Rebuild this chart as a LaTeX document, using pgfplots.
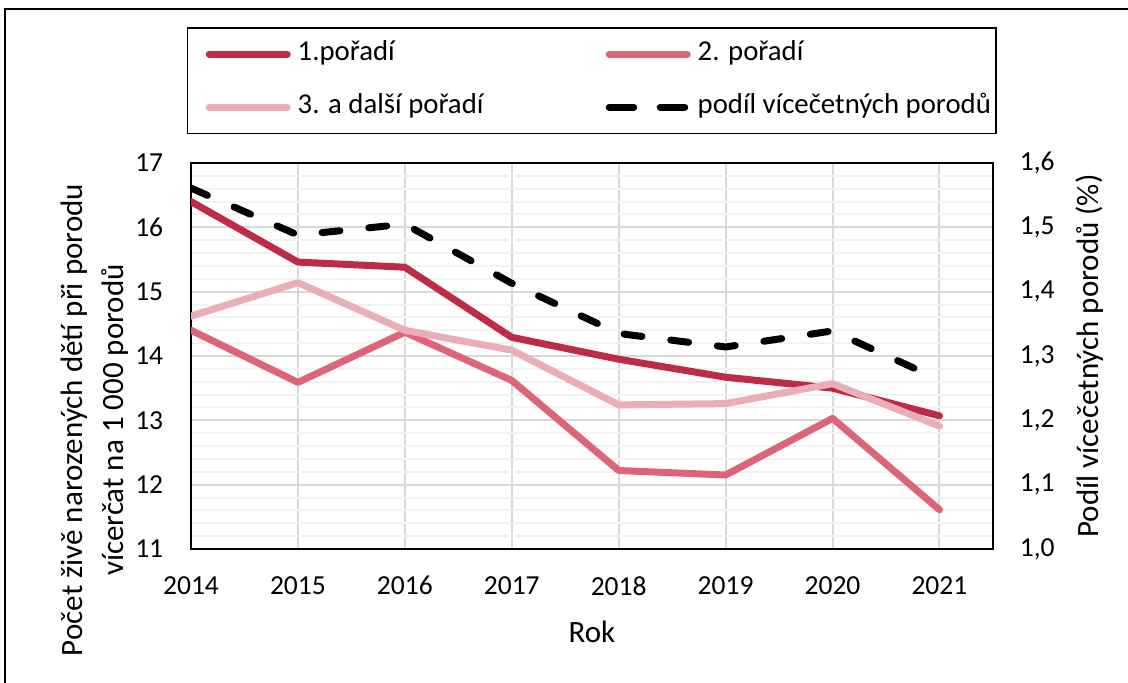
\documentclass[border=0pt]{standalone}
\usepackage{fontspec}
\setmainfont{Carlito}
\usepackage{pgfplots}
\pgfplotsset{compat=1.18}

\definecolor{prvni}{RGB}{190,43,69}
\definecolor{druhe}{RGB}{220,102,120}
\definecolor{treti}{RGB}{235,174,182}
\definecolor{mrizka}{RGB}{217,217,217}
\definecolor{mrizkamin}{RGB}{242,242,242}

\newcommand\popisek{\fontsize{12.4}{14}\selectfont}

\pgfplotsset{
  spolecne/.style={
    at={(76.4pt,53.2pt)}, anchor=south west,
    scale only axis, width=320.8pt, height=154.4pt,
    xmin=2014, xmax=2021.5,
    major tick length=0pt, minor tick length=0pt,
    tick label style={font=\fontsize{11}{13}\selectfont},
    /pgf/number format/assume math mode=true,
    axis line style={line width=0.8pt},
  },
  rada/.style={line width=2.8pt, line cap=round, line join=round},
}

\begin{document}
\begin{tikzpicture}
\useasboundingbox (0,0) rectangle (451.2pt,272.8pt);
\draw[line width=0.8pt] (2pt,-10pt) -- (2pt,269.2pt) -- (460pt,269.2pt);

\begin{axis}[spolecne,
  ymin=11, ymax=17, ytick={11,...,17}, minor y tick num=4,
  xtick={2014,...,2021},
  xticklabel style={/pgf/number format/1000 sep={}, yshift=-7.4pt},
  yticklabel style={xshift=-7.6pt},
  xmajorgrids, ymajorgrids, yminorgrids,
  major grid style={draw=mrizka, line width=0.8pt},
  minor grid style={draw=mrizkamin, line width=0.8pt},
  xlabel={Rok},
  every axis x label/.style={at={(axis description cs:0.5,0)}, anchor=center, yshift=-33.2pt, font=\popisek},
  ylabel={Počet živě narozených dětí při porodu\\[2.6pt]vícerčat na 1 000 porodů},
  every axis y label/.style={at={(axis description cs:-0.1203,0.334)}, anchor=center, rotate=90, align=center, font=\popisek},
  legend columns=2,
  legend cell align=left,
  legend image code/.code={\draw[#1] (1.4pt,0pt) -- (32.6pt,0pt);},
  legend style={at={(axis description cs:-0.005,1.352)}, anchor=north west,
    draw=black, line width=0.6pt, font=\fontsize{11.5}{13}\selectfont,
    inner xsep=7.2pt, inner ysep=5.5pt, row sep=11.2pt,
    nodes={inner sep=0pt, text height=7.5pt, text depth=2.5pt},
    /tikz/every odd column/.append style={column sep=2.8pt}},
]
\addplot[rada, prvni] coordinates {
  (2014,16.40) (2015,15.46) (2016,15.38) (2017,14.29)
  (2018,13.95) (2019,13.67) (2020,13.50) (2021,13.07)
};
\addlegendentry{\makebox[123.2pt][l]{1.pořadí}}
\addplot[rada, druhe] coordinates {
  (2014,14.40) (2015,13.59) (2016,14.37) (2017,13.62)
  (2018,12.22) (2019,12.15) (2020,13.03) (2021,11.61)
};
\addlegendentry{\makebox[112pt][l]{2. pořadí}}
\addplot[rada, treti] coordinates {
  (2014,14.62) (2015,15.14) (2016,14.40) (2017,14.09)
  (2018,13.24) (2019,13.26) (2020,13.57) (2021,12.91)
};
\addlegendentry{\makebox[123.2pt][l]{3. a další pořadí}}
\addlegendimage{rada, black, dash pattern=on 9.8pt off 10.6pt}
\addlegendentry{\makebox[112pt][l]{podíl vícečetných porodů}}
\end{axis}

\begin{axis}[spolecne,
  ymin=1.0, ymax=1.6, ytick={1.0,1.1,1.2,1.3,1.4,1.5,1.6},
  axis y line*=right, axis x line=none,
  yticklabel style={xshift=7.2pt, /pgf/number format/.cd, fixed, fixed zerofill, precision=1, use comma},
  ylabel={Podíl vícečetných porodů (\%)},
  every axis y label/.style={at={(axis description cs:1.121,0.5)}, anchor=center, rotate=90, font=\popisek},
]
\addplot[rada, black, dash pattern=on 7.2pt off 11.6pt] coordinates {
  (2014,1.561) (2015,1.488) (2016,1.505) (2017,1.413)
  (2018,1.335) (2019,1.314) (2020,1.339) (2021,1.263)
};
\end{axis}
\end{tikzpicture}
\end{document}
